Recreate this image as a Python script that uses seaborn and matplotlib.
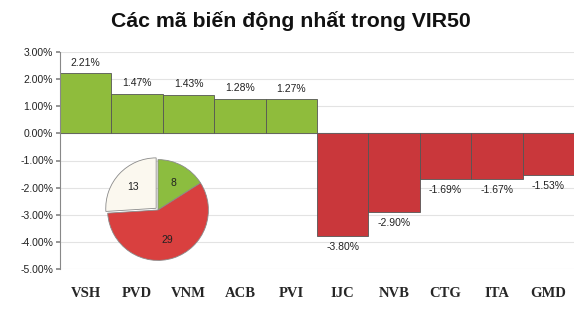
import matplotlib
matplotlib.use("Agg")
import matplotlib.pyplot as plt
import seaborn as sns
import pandas as pd
import numpy as np

codes = ["VSH", "PVD", "VNM", "ACB", "PVI", "IJC", "NVB", "CTG", "ITA", "GMD"]
changes = [2.21, 1.47, 1.43, 1.28, 1.27, -3.80, -2.90, -1.69, -1.67, -1.53]
pie_values = [8, 29, 13]
pie_labels = ["8", "29", "13"]
yticks = [3, 2, 1, 0, -1, -2, -3, -4, -5]

sns.set_theme(style="white")
plt.rcParams['font.family'] = ['Liberation Sans', 'DejaVu Sans']

df = pd.DataFrame({"code": codes, "change": changes})
df["sign"] = np.where(df["change"] >= 0, "up", "down")

fig = plt.figure(figsize=(5.81, 3.09), dpi=100)
ax = fig.add_axes([60/581, 1-269/309, 514/581, 217/309])

palette = {"up": "#8fbc3c", "down": "#c9373b"}
sns.barplot(data=df, x="code", y="change", hue="sign", palette=palette,
            dodge=False, width=1.0, edgecolor="#555555", linewidth=0.6,
            saturation=1, legend=False, ax=ax)

ax.set_ylim(-5, 3)
ax.set_xlim(-0.5, len(codes) - 0.5)
ax.set_yticks(yticks)
ax.set_yticklabels([f"{v:.2f}%" for v in yticks], fontsize=7.5, color="#222222")
ax.yaxis.grid(True, color="#e3e3e3", linewidth=0.8)
ax.set_axisbelow(True)
ax.set_xlabel("")
ax.set_ylabel("")
ax.set_xticks(range(len(codes)))
ax.set_xticklabels(codes, fontsize=10.5, fontweight="bold",
                   family=["Liberation Serif"])
ax.tick_params(axis="x", length=0, pad=13)
ax.tick_params(axis="y", length=3, left=True, color="#888888", pad=2)
for s in ["top", "right", "bottom"]:
    ax.spines[s].set_visible(False)
ax.spines["left"].set_color("#888888")
ax.spines["left"].set_linewidth(0.8)
ax.axhline(0, color="#999999", linewidth=0.8, zorder=0.5)

for i, v in enumerate(changes):
    if v >= 0:
        ax.text(i, v + 0.2, f"{v:.2f}%", ha="center", va="bottom", fontsize=7.5,
                color="#222222")
    else:
        ax.text(i, v - 0.22, f"{v:.2f}%", ha="center", va="top", fontsize=7.5,
                color="#222222")

fig.text(0.5, 1-21/309, "Các mã biến động nhất trong VIR50", ha="center",
         va="center", fontsize=15.3, fontweight="bold", color="#111111")

pax = fig.add_axes([(158-63)/581, 1-(210+63)/309, 126/581, 126/309])
wedges, texts = pax.pie(pie_values, labels=None, startangle=90, counterclock=False,
                        colors=["#8cbd3f", "#d9403f", "#fbf8ef"],
                        explode=[0, 0, 0.05],
                        wedgeprops=dict(edgecolor="#8a8a8a", linewidth=0.6))
for w, lab in zip(wedges, pie_labels):
    ang = np.deg2rad((w.theta1 + w.theta2) / 2)
    r = 0.62
    cx, cy = w.center
    pax.text(cx + r*np.cos(ang), cy + r*np.sin(ang), lab, ha="center", va="center",
             fontsize=7.5, color="#222222")
pax.set_aspect("equal")

fig.savefig("out.png", dpi=100)
